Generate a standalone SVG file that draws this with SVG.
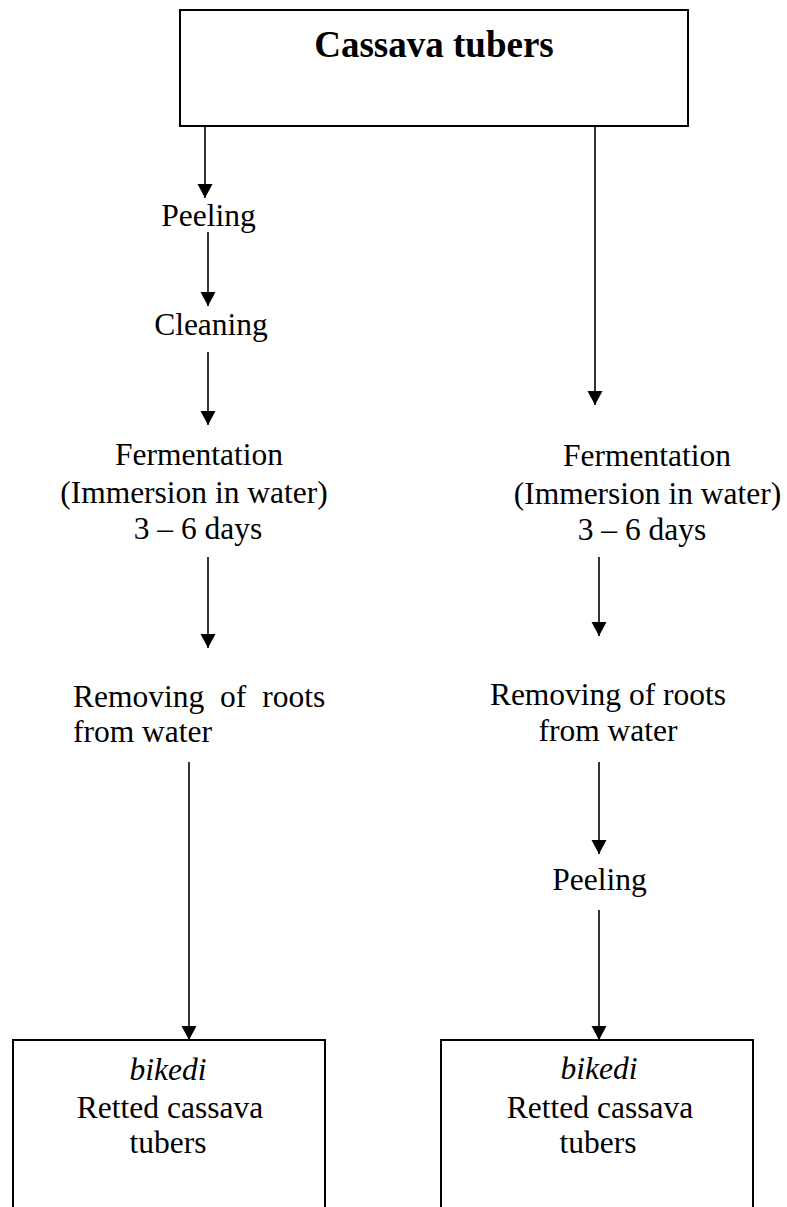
<svg xmlns="http://www.w3.org/2000/svg" width="787" height="1207" viewBox="0 0 787 1207">
<style>
.t{font-family:"Liberation Serif","Times New Roman",serif;font-size:31.5px;fill:#000}
.c{text-anchor:middle}
.b{font-weight:bold;font-size:37px}
.i{font-style:italic}
.box{fill:#fff;stroke:#000;stroke-width:2}
.ln{stroke:#000;stroke-width:1.6;fill:none;marker-end:url(#ah)}
</style>
<defs>
<marker id="ah" markerUnits="userSpaceOnUse" markerWidth="16" markerHeight="16" refX="14" refY="7.5" orient="auto">
<path d="M0,0 L14,7.5 L0,15 Z" fill="#000"/>
</marker>
</defs>
<rect width="787" height="1207" fill="#fff"/>
<g id="connectors">
<line class="ln" x1="205" y1="126" x2="205" y2="198"/>
<line class="ln" x1="208" y1="232" x2="208" y2="306"/>
<line class="ln" x1="208" y1="352" x2="208" y2="425"/>
<line class="ln" x1="208" y1="557" x2="208" y2="648"/>
<line class="ln" x1="189" y1="762" x2="189" y2="1040"/>
<line class="ln" x1="595" y1="126" x2="595" y2="405"/>
<line class="ln" x1="599" y1="557" x2="599" y2="636"/>
<line class="ln" x1="599" y1="762" x2="599" y2="854"/>
<line class="ln" x1="599" y1="910" x2="599" y2="1040"/>
</g>
<g id="n-cassava">
<rect class="box" x="180" y="10" width="508" height="116"/>
<text class="t b c" x="434" y="57">Cassava tubers</text>
</g>
<g id="n-peeling1"><text class="t c" x="208.5" y="226">Peeling</text></g>
<g id="n-cleaning"><text class="t c" x="211" y="335">Cleaning</text></g>
<g id="n-ferm-left">
<text class="t c" x="199" y="465">Fermentation</text>
<text class="t c" x="194" y="503">(Immersion in water)</text>
<text class="t c" x="198" y="539">3 – 6 days</text>
</g>
<g id="n-ferm-right">
<text class="t c" x="647" y="466">Fermentation</text>
<text class="t c" x="647.5" y="504">(Immersion in water)</text>
<text class="t c" x="642" y="540">3 – 6 days</text>
</g>
<g id="n-remove-left">
<text class="t" x="73" y="707" word-spacing="8">Removing of roots</text>
<text class="t" x="73" y="742">from water</text>
</g>
<g id="n-remove-right">
<text class="t c" x="608" y="705">Removing of roots</text>
<text class="t c" x="608" y="741">from water</text>
</g>
<g id="n-peeling2"><text class="t c" x="599.5" y="890">Peeling</text></g>
<g id="n-bikedi-left">
<rect class="box" x="13" y="1040" width="312" height="180"/>
<text class="t c i" x="168" y="1080">bikedi</text>
<text class="t c" x="170" y="1118">Retted cassava</text>
<text class="t c" x="168" y="1153">tubers</text>
</g>
<g id="n-bikedi-right">
<rect class="box" x="441" y="1040" width="312" height="180"/>
<text class="t c i" x="599" y="1079">bikedi</text>
<text class="t c" x="600" y="1118">Retted cassava</text>
<text class="t c" x="598" y="1153">tubers</text>
</g>
</svg>
